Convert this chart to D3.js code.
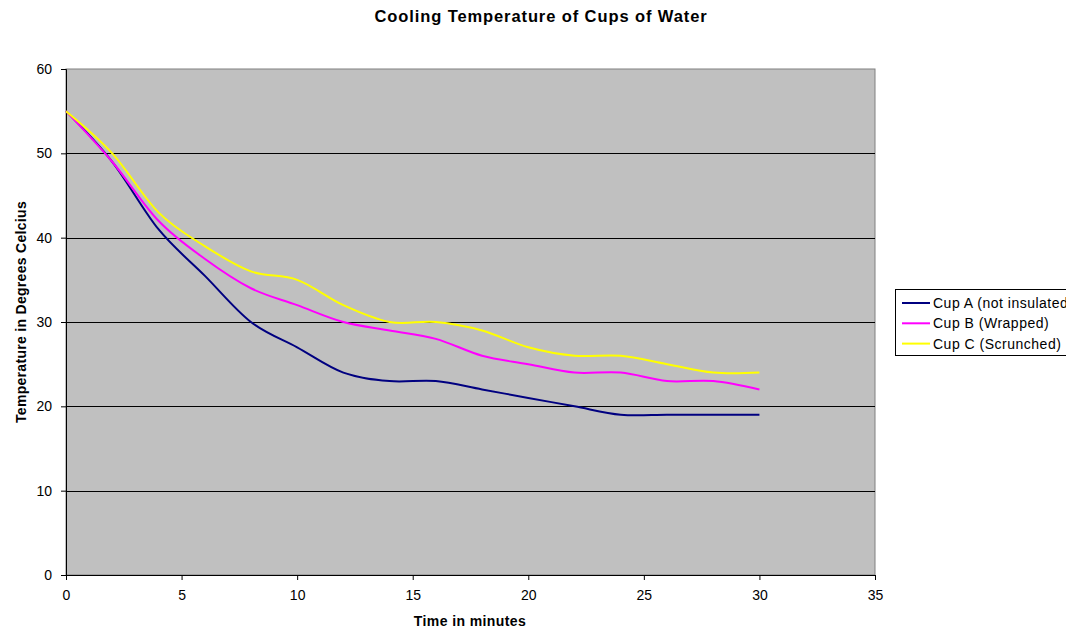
<!DOCTYPE html>
<html><head><meta charset="utf-8">
<script src="https://cdn.jsdelivr.net/npm/d3@7"></script>
<style>body{margin:0;background:#fff;} svg{display:block;font-family:"Liberation Sans",Arial,sans-serif;}</style>
</head><body>
<svg id="c" width="1066" height="632"></svg>
<script>
const minutes = [0,2,4,6,8,10,12,14,16,18,20,22,24,26,28,30];
const cupA = [55,49,41,35.5,30,27,24,23,23,22,21,20,19,19,19,19];
const cupB = [55,49,42,37.5,34,32,30,29,28,26,25,24,24,23,23,22];
const cupC = [55,50,43,39,36,35,32,30,30,29,27,26,26,25,24,24];
const seriesNames = ["Cup A (not insulated)","Cup B (Wrapped)","Cup C (Scrunched)"];
const seriesColors = ["#000080","#FF00FF","#FFFF00"];
const xTicks = [0,5,10,15,20,25,30,35];
const yTicks = [0,10,20,30,40,50,60];

const svg = d3.select("#c");
const L=66, T=69, R=875, B=575;
const x = d3.scaleLinear().domain([0,35]).range([L,R]);
const y = d3.scaleLinear().domain([0,60]).range([B,T]);

svg.append("rect").attr("x",L).attr("y",T).attr("width",R-L).attr("height",B-T)
  .attr("fill","#C0C0C0").attr("stroke","#808080").attr("stroke-width",1);

// gridlines
svg.append("g").selectAll("line").data(yTicks.filter(v=>v>0&&v<60)).join("line")
  .attr("x1",L).attr("x2",R).attr("y1",d=>Math.round(y(d))+0.5).attr("y2",d=>Math.round(y(d))+0.5)
  .attr("stroke","#000").attr("stroke-width",1);

// axes
const yAxis = svg.append("g").attr("transform",`translate(${L},0)`)
  .call(d3.axisLeft(y).tickValues(yTicks).tickSize(5).tickPadding(9).tickFormat(d3.format("d")));
const xAxis = svg.append("g").attr("transform",`translate(0,${B})`)
  .call(d3.axisBottom(x).tickValues(xTicks).tickSize(5).tickPadding(10).tickFormat(d3.format("d")));
[yAxis,xAxis].forEach(a=>{
  a.selectAll("text").attr("font-size",14).attr("fill","#000").attr("font-family","Liberation Sans, Arial, sans-serif");
  a.selectAll("line,path").attr("stroke","#000");
});

// lines
const series = [cupA,cupB,cupC];
const line = d3.line().x((d,i)=>x(minutes[i])).y(d=>y(d)).curve(d3.curveCardinal.tension(0));
series.forEach((s,k)=>{
  svg.append("path").datum(s).attr("d",line).attr("fill","none")
    .attr("stroke",seriesColors[k]).attr("stroke-width",2);
});

// title
svg.append("text").attr("x",541).attr("y",22).attr("text-anchor","middle")
  .attr("font-size",16.5).attr("letter-spacing",0.9).attr("font-weight","bold").text("Cooling Temperature of Cups of Water");
svg.append("text").attr("x",470).attr("y",626).attr("text-anchor","middle")
  .attr("font-size",14).attr("letter-spacing",0.4).attr("font-weight","bold").text("Time in minutes");
svg.append("text").attr("transform","translate(26,312) rotate(-90)").attr("text-anchor","middle")
  .attr("font-size",14).attr("letter-spacing",0.3).attr("font-weight","bold").text("Temperature in Degrees Celcius");

// legend
const lg = svg.append("g");
lg.append("rect").attr("x",895.5).attr("y",289.5).attr("width",200).attr("height",66)
  .attr("fill","#fff").attr("stroke","#000").attr("stroke-width",1);
seriesNames.forEach((n,k)=>{
  const yy = 303 + k*20.3;
  lg.append("line").attr("x1",902).attr("x2",930).attr("y1",yy).attr("y2",yy)
    .attr("stroke",seriesColors[k]).attr("stroke-width",2);
  lg.append("text").attr("x",933).attr("y",yy+5).attr("font-size",14).attr("letter-spacing",0.5).text(n);
});
</script>
</body></html>
